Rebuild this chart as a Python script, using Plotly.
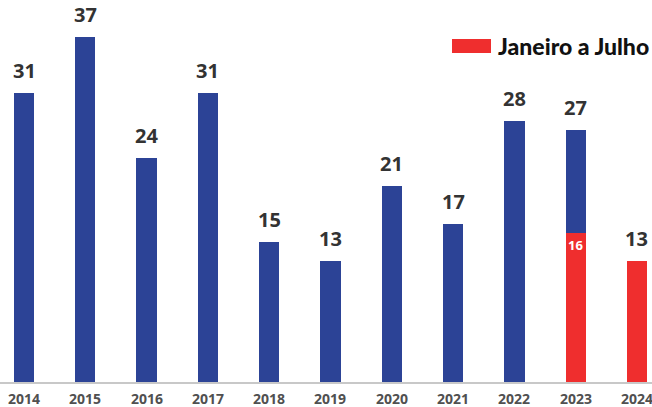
import plotly.graph_objects as go

years = ["2014", "2015", "2016", "2017", "2018", "2019", "2020", "2021", "2022", "2023", "2024"]
totals = [31, 37, 24, 31, 15, 13, 21, 17, 28, 27, 13]
jan_jul = [None, None, None, None, None, None, None, None, None, 16, 13]

BLUE = "#2C4396"
RED = "#EF2E2E"

blue_vals = []
for t, j in zip(totals, jan_jul):
    if j is None:
        blue_vals.append(t)
    elif t - j > 0:
        blue_vals.append(t - j)
    else:
        blue_vals.append(None)

xpos = list(range(len(years)))

fig = go.Figure()
fig.add_trace(go.Bar(x=xpos, y=jan_jul, marker=dict(color=RED, line=dict(width=0)),
                     width=0.33, name="Janeiro a Julho", showlegend=False))
fig.add_trace(go.Bar(x=xpos, y=blue_vals, marker=dict(color=BLUE, line=dict(width=0)),
                     width=0.33, name="Ano", showlegend=False))

annotations = []
for i, t in zip(xpos, totals):
    annotations.append(dict(x=i, y=t, xref="x", yref="y", text=str(t), showarrow=False,
                            yanchor="bottom", yshift=7,
                            font=dict(family="Open Sans", size=20, color="#333333", weight="bold")))
for i, t, j in zip(xpos, totals, jan_jul):
    if j is not None and j != t:
        annotations.append(dict(x=i, y=j, xref="x", yref="y", text=str(j), showarrow=False,
                                yanchor="top", yshift=-1,
                                font=dict(family="Open Sans", size=13, color="white", weight="bold")))
# category labels (as annotations so the last one is not dropped at the edge)
for i, yr in zip(xpos, years):
    annotations.append(dict(x=i, y=0, xref="x", yref="paper", text=yr, showarrow=False,
                            yanchor="middle", yshift=-16,
                            font=dict(family="Open Sans", size=14, color="#505050", weight="bold")))

# legend
annotations.append(dict(x=496 / 652, y=1 - 46 / 382, xref="paper", yref="paper", text="Janeiro a Julho",
                        showarrow=False, xanchor="left", yanchor="middle",
                        font=dict(family="Lato", size=23, color="#111111", weight=900)))

fig.update_layout(
    width=652, height=407,
    margin=dict(l=0, r=0, t=0, b=25, autoexpand=False),
    paper_bgcolor="white", plot_bgcolor="white",
    barmode="stack",
    annotations=annotations,
    shapes=[dict(type="rect", xref="paper", yref="paper",
                 x0=452 / 652, x1=491 / 652, y0=1 - 53 / 382, y1=1 - 39 / 382,
                 fillcolor=RED, line=dict(width=0))],
    xaxis=dict(range=[-0.3915, 10.245], showgrid=False, zeroline=False,
               showticklabels=False,
               showline=True, linecolor="#C8C8C8", linewidth=1.5,
               ticks="", automargin=False),
    yaxis=dict(range=[0, 41.0], visible=False, showgrid=False, zeroline=False),
)

fig.write_html("out.html", config={"displayModeBar": False},
               post_script="document.body.style.margin='0';")
